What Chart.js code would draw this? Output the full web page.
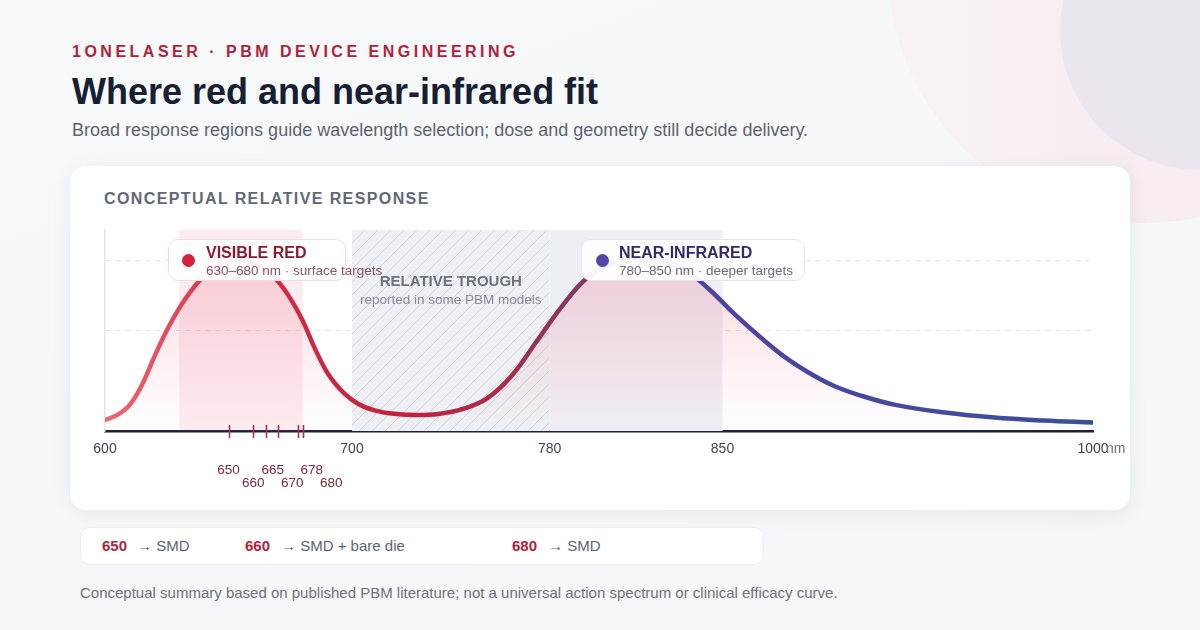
<!DOCTYPE html>
<html>
<head>
<meta charset="utf-8">
<script src="https://cdn.jsdelivr.net/npm/chart.js@4.4.1/dist/chart.umd.min.js"></script>
<style>
  html, body { margin: 0; padding: 0; }
  body {
    width: 1200px; height: 630px; overflow: hidden; position: relative;
    background: linear-gradient(160deg, #f8f9fb 0%, #f5f6f8 100%);
    font-family: "Liberation Sans", Arial, sans-serif;
  }
  .blob1 { position: absolute; left: 887px; top: -293px; width: 516px; height: 516px; border-radius: 50%;
    background: linear-gradient(90deg, #f8f2f6 0%, #f6ecf1 55%); }
  .blob2 { position: absolute; left: 1060px; top: -110px; width: 280px; height: 280px; border-radius: 50%; background: #ebe6ee; }
  .eyebrow { position: absolute; left: 72px; top: 44px; font-size: 16px; line-height: 16px; font-weight: bold;
    letter-spacing: 3.5px; color: #b0223a; white-space: nowrap; }
  h1 { position: absolute; left: 72px; top: 74px; margin: 0; font-size: 36px; line-height: 36px; font-weight: bold;
    color: #172033; white-space: nowrap; }
  .sub { position: absolute; left: 72px; top: 121px; font-size: 18px; line-height: 18px; color: #5b6473; white-space: nowrap; }
  .card { position: absolute; left: 70px; top: 166px; width: 1060px; height: 344px; background: #fff;
    border-radius: 16px; box-shadow: 0 4px 20px rgba(20, 30, 60, 0.07); }
  .card h2 { position: absolute; left: 34px; top: 25px; margin: 0; font-size: 16px; line-height: 16px; font-weight: bold;
    letter-spacing: 1.4px; color: #5f6878; white-space: nowrap; }
  #wrap { position: absolute; left: 0; top: 0; width: 1060px; height: 344px; }
  .tag { position: absolute; top: 73px; height: 42px; box-sizing: border-box; border-radius: 10px;
    background: rgba(255, 255, 255, 0.94); white-space: nowrap; }
  .tag .dot { position: absolute; top: 14px; width: 13px; height: 13px; border-radius: 50%; }
  .tag .t { position: absolute; left: 37px; top: 5px; font-size: 16px; line-height: 16px; font-weight: bold; }
  .tag .s { position: absolute; left: 37px; top: 24px; font-size: 13.5px; line-height: 13.5px; }
  .red { left: 98px; width: 178px; border: 1px solid #f1dde1; }
  .red .dot { left: 13px; background: #d61f3c; }
  .red .t { color: #8b1a2e; }
  .red .s { color: #8a5560; }
  .nir { left: 511px; width: 224px; border: 1px solid #e4e4ee; }
  .nir .dot { left: 14px; background: #5346a8; }
  .nir .t { color: #2e2a6b; }
  .nir .s { color: #6b6b80; }
  .strip { position: absolute; left: 80px; top: 527px; width: 684px; height: 38px; box-sizing: border-box;
    background: #fff; border: 1px solid #eceef3; border-radius: 10px; font-size: 15px; }
  .strip span { position: absolute; top: 10px; line-height: 15px; white-space: nowrap; }
  .strip b { color: #b0223a; }
  .strip .a { color: #5b6473; }
  .note { position: absolute; left: 80px; top: 585px; font-size: 15px; line-height: 15px; color: #6b7280; white-space: nowrap; }
</style>
</head>
<body>
<div class="blob1"></div>
<div class="blob2"></div>
<div class="eyebrow">1ONELASER · PBM DEVICE ENGINEERING</div>
<h1>Where red and near-infrared fit</h1>
<div class="sub">Broad response regions guide wavelength selection; dose and geometry still decide delivery.</div>

<div class="card">
  <h2>CONCEPTUAL RELATIVE RESPONSE</h2>
  <div id="wrap"><canvas id="chart"></canvas></div>
  <div class="tag red"><div class="dot"></div><div class="t">VISIBLE RED</div><div class="s">630–680 nm · surface targets</div></div>
  <div class="tag nir"><div class="dot"></div><div class="t">NEAR-INFRARED</div><div class="s">780–850 nm · deeper targets</div></div>
</div>

<div class="strip">
  <span style="left:21px"><b>650</b></span><span class="a" style="left:56px">→ SMD</span>
  <span style="left:164px"><b>660</b></span><span class="a" style="left:200px">→ SMD + bare die</span>
  <span style="left:431px"><b>680</b></span><span class="a" style="left:467px">→ SMD</span>
</div>
<div class="note">Conceptual summary based on published PBM literature; not a universal action spectrum or clinical efficacy curve.</div>

<script>
// data
const wavelengths = [600, 605, 610, 615, 620, 625, 630, 635, 640, 645, 650, 655, 660, 665, 670, 675, 680, 685, 690, 695,
  700, 705, 710, 715, 725, 735, 745, 755, 765, 775, 785, 795, 805, 815, 825, 835, 845, 855, 865, 875, 885, 895,
  905, 920, 940, 960, 980, 1000];
const response = [0.055, 0.08, 0.13, 0.23, 0.37, 0.50, 0.61, 0.70, 0.77, 0.82, 0.845, 0.85, 0.835, 0.80, 0.745, 0.66, 0.55, 0.41, 0.29, 0.21,
  0.155, 0.12, 0.10, 0.088, 0.08, 0.085, 0.11, 0.165, 0.28, 0.45, 0.62, 0.76, 0.83, 0.86, 0.85, 0.80, 0.70, 0.58, 0.47, 0.37, 0.29, 0.225,
  0.18, 0.13, 0.092, 0.067, 0.052, 0.042];
const axisTicks = [600, 700, 780, 850, 1000];
const deviceLines = [650, 660, 665, 670, 678, 680];
const gridLevels = [0.5, 0.85];
const redBand = [630, 680];
const troughBand = [700, 780];
const nirBand = [780, 850];

const points = wavelengths.map((w, i) => ({ x: w, y: response[i] }));

function strokeGrad(c) {
  const chart = c.chart, area = chart.chartArea;
  if (!area) return '#c0223c';
  const g = chart.ctx.createLinearGradient(area.left, 0, area.right, 0);
  g.addColorStop(0, '#ec6b74');
  g.addColorStop(0.12, '#d8304a');
  g.addColorStop(0.3, '#c0223c');
  g.addColorStop(0.4, '#aa2c48');
  g.addColorStop(0.47, '#7f3a60');
  g.addColorStop(0.58, '#5242a2');
  g.addColorStop(1, '#394f96');
  return g;
}

function fillGrad(c) {
  const chart = c.chart, area = chart.chartArea;
  if (!area) return 'rgba(228,70,100,0.1)';
  const g = chart.ctx.createLinearGradient(0, area.top, 0, area.bottom);
  g.addColorStop(0, 'rgba(228,70,100,0.24)');
  g.addColorStop(1, 'rgba(228,70,100,0)');
  return g;
}

// background bands + trough caption
const bandsPlugin = {
  id: 'bands',
  beforeDatasetsDraw(chart) {
    const { ctx, chartArea: a, scales: { x } } = chart;
    const h = a.bottom - a.top;
    ctx.save();
    ctx.fillStyle = 'rgba(236,72,100,0.10)';
    ctx.fillRect(x.getPixelForValue(redBand[0]), a.top, x.getPixelForValue(redBand[1]) - x.getPixelForValue(redBand[0]), h);

    const tx0 = x.getPixelForValue(troughBand[0]), tx1 = x.getPixelForValue(troughBand[1]);
    ctx.fillStyle = '#eef0f5';
    ctx.fillRect(tx0, a.top, tx1 - tx0, h);
    ctx.save();
    ctx.beginPath();
    ctx.rect(tx0, a.top, tx1 - tx0, h);
    ctx.clip();
    ctx.strokeStyle = 'rgba(150,156,172,0.32)';
    ctx.lineWidth = 1;
    ctx.beginPath();
    for (let i = -h; i < tx1 - tx0 + h; i += 13) {
      ctx.moveTo(tx0 + i, a.bottom);
      ctx.lineTo(tx0 + i + h, a.top);
    }
    ctx.stroke();
    ctx.restore();

    ctx.fillStyle = '#efeef5';
    ctx.fillRect(x.getPixelForValue(nirBand[0]), a.top, x.getPixelForValue(nirBand[1]) - x.getPixelForValue(nirBand[0]), h);

    const cx = x.getPixelForValue((troughBand[0] + troughBand[1]) / 2);
    ctx.textAlign = 'center';
    ctx.textBaseline = 'alphabetic';
    ctx.fillStyle = '#6b7280';
    ctx.font = 'bold 15px "Liberation Sans", Arial, sans-serif';
    ctx.fillText('RELATIVE TROUGH', cx, a.top + 56);
    ctx.fillStyle = '#878d98';
    ctx.font = '13.5px "Liberation Sans", Arial, sans-serif';
    ctx.fillText('reported in some PBM models', cx, a.top + 74);
    ctx.restore();
  }
};

// device wavelength ticks and staggered labels, unit label
const markersPlugin = {
  id: 'markers',
  afterDraw(chart) {
    const { ctx, chartArea: a, scales: { x } } = chart;
    ctx.save();
    ctx.strokeStyle = '#a8304a';
    ctx.lineWidth = 1.6;
    deviceLines.forEach(v => {
      const px = Math.round(x.getPixelForValue(v)) + 0.5;
      ctx.beginPath();
      ctx.moveTo(px, a.bottom - 6);
      ctx.lineTo(px, a.bottom + 7);
      ctx.stroke();
    });
    ctx.fillStyle = '#7a2838';
    ctx.font = '13.5px "Liberation Sans", Arial, sans-serif';
    ctx.textAlign = 'center';
    ctx.textBaseline = 'alphabetic';
    let prev = -Infinity;
    deviceLines.forEach((v, i) => {
      const px = Math.max(x.getPixelForValue(v), prev + 19.5);
      prev = px;
      ctx.fillText(String(v), px, a.bottom + (i % 2 === 0 ? 43 : 55.5));
    });
    ctx.fillStyle = '#6b7280';
    ctx.font = '14px "Liberation Sans", Arial, sans-serif';
    ctx.textAlign = 'left';
    ctx.textBaseline = 'middle';
    ctx.fillText('nm', a.right + 13, a.bottom + 18);
    ctx.restore();
  }
};

new Chart(document.getElementById('chart'), {
  type: 'line',
  data: {
    datasets: [{
      data: points,
      borderColor: strokeGrad,
      backgroundColor: fillGrad,
      borderWidth: 4.5,
      borderCapStyle: 'round',
      fill: 'origin',
      pointRadius: 0,
      tension: 0.4
    }]
  },
  options: {
    responsive: true,
    maintainAspectRatio: false,
    animation: false,
    events: [],
    layout: { padding: { left: 35, right: 37, top: 64, bottom: 0 } },
    plugins: { legend: { display: false }, tooltip: { enabled: false } },
    scales: {
      x: {
        type: 'linear',
        min: 600,
        max: 1000,
        z: 1,
        afterBuildTicks: s => { s.ticks = axisTicks.map(v => ({ value: v })); },
        afterFit: s => { s.height = 79; },
        grid: { display: false, drawTicks: false },
        border: { display: true, color: '#1e2235', width: 2.5 },
        ticks: {
          padding: 10,
          color: '#3d4452',
          font: { family: '"Liberation Sans", Arial, sans-serif', size: 14 },
          maxRotation: 0,
          callback: v => String(v)
        }
      },
      y: {
        min: 0,
        max: 1,
        afterBuildTicks: s => { s.ticks = [0].concat(gridLevels).map(v => ({ value: v })); },
        afterFit: s => { s.width = 0; },
        grid: {
          drawTicks: false,
          color: c => c.tick && c.tick.value === 0 ? 'rgba(0,0,0,0)' : '#e4e6ec',
          lineWidth: 1
        },
        border: { display: true, color: '#e2e4ea', width: 1.5, dash: [5, 5] },
        ticks: { display: false }
      }
    }
  },
  plugins: [bandsPlugin, markersPlugin]
});
</script>
</body>
</html>
